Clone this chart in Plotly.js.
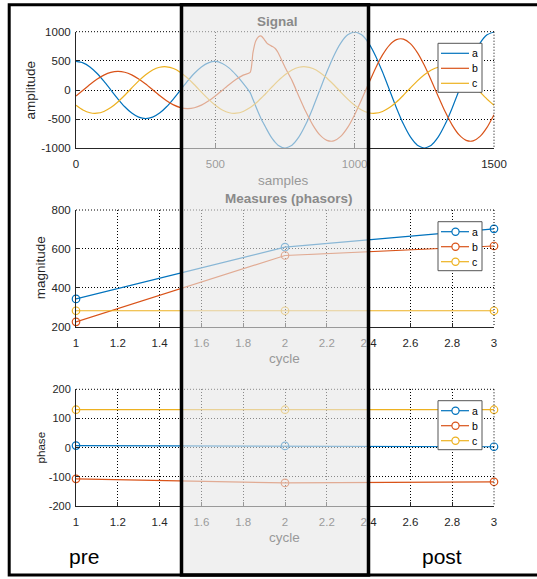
<!DOCTYPE html>
<html><head><meta charset="utf-8">
<script src="https://cdn.plot.ly/plotly-3.0.1.min.js"></script>
<style>html,body{margin:0;padding:0;background:#fff}#chart{width:537px;height:579px}</style>
</head><body><div id="chart"></div>
<script>
// ---------------- data ----------------
const seriesNames = ['a', 'b', 'c'];
const seriesColors = ['#0072BD', '#D95319', '#EDB120'];

const sampleIdx = [0,25,50,75,100,125,150,175,200,225,250,275,300,325,350,375,400,425,450,475,500,525,550,575,600,625,
  635,645,655,665,675,685,695,705,715,
  725,750,775,800,825,850,875,900,925,950,975,1000,1025,1050,1075,1100,1125,1150,1175,1200,1225,1250,1275,1300,1325,1350,1375,1400,1425,1450,1475,1500];

const signalA = [490,466,396,288,151,0,-151,-288,-396,-466,-490,-466,-396,-288,-151,0,151,288,396,466,490,455,375,255,115,-45,
  -160,-280,-395,-500,-590,-680,-765,-840,-900,
  -946,-995,-946,-805,-585,-307,0,307,585,805,946,995,946,805,585,307,0,-307,-585,-805,-946,-995,-946,-805,-585,-307,0,307,585,805,946,995];

const signalB = [-102,-4,95,184,255,301,318,304,260,190,102,4,-95,-184,-255,-301,-318,-304,-260,-190,-102,-4,95,184,255,301,
  640,840,915,925,870,805,770,745,712,
  642,390,165,-110,-375,-602,-771,-864,-873,-796,-642,-424,-165,110,375,602,771,864,873,796,642,424,165,-110,-375,-602,-771,-864,-873,-796,-642,-424];

const signalC = [-262,-343,-390,-398,-368,-302,-206,-90,35,156,262,343,390,398,368,302,206,90,-35,-156,-262,-343,-390,-398,-368,-302,
  -267,-227,-184,-138,-90,-40,10,60,109,
  156,262,343,390,398,368,302,206,90,-35,-156,-262,-343,-390,-398,-368,-302,-206,-90,35,156,262,343,390,398,368,302,206,90,-35,-156,-262];

const cycles = [1, 2, 3];
const magA = [343, 609, 703];
const magB = [225, 566, 615];
const magC = [282, 282, 282];
const phaseA = [7, 6, 3];
const phaseB = [-107, -121, -117];
const phaseC = [130, 130, 130];

const signalXTicks = [0, 500, 1000, 1500];
const signalYTicks = [-1000, -500, 0, 500, 1000];
const cycleTicks = [1, 1.2, 1.4, 1.6, 1.8, 2, 2.2, 2.4, 2.6, 2.8, 3];
const magYTicks = [200, 400, 600, 800];
const phaseYTicks = [-200, -100, 0, 100, 200];

// ---------------- layout helpers ----------------
const W = 537, H = 579;
const px = v => v / W;
const py = v => 1 - v / H;
const FONT = 'Liberation Sans, Arial, Helvetica, sans-serif';
const AX_L = 76, AX_R = 494;
const boxes = [
  {top: 31.7, bottom: 148.3},
  {top: 210, bottom: 326.7},
  {top: 389.3, bottom: 506}
];
const DOT = '1px,2px';

function xAxis(anchor, range, ticks) {
  return {
    anchor: anchor, domain: [px(AX_L), px(AX_R)], range: range,
    tickmode: 'array', tickvals: ticks, ticktext: ticks.map(String),
    ticks: 'inside', ticklen: 4, tickcolor: '#262626', tickwidth: 1,
    showgrid: true, gridcolor: '#000', griddash: DOT, gridwidth: 1,
    showline: true, linecolor: '#262626', linewidth: 1, zeroline: false,
    tickfont: {family: FONT, size: 11.5, color: '#262626'},
    ticklabelstandoff: 5,
    fixedrange: true
  };
}
function yAxis(anchor, box, range, ticks, fs) {
  return {
    anchor: anchor, domain: [py(box.bottom), py(box.top)], range: range,
    tickmode: 'array', tickvals: ticks, ticktext: ticks.map(String),
    ticks: 'inside', ticklen: 4, tickcolor: '#262626', tickwidth: 1,
    showgrid: true, gridcolor: '#000', griddash: DOT, gridwidth: 1,
    showline: true, linecolor: '#262626', linewidth: 1, zeroline: false,
    tickfont: {family: FONT, size: fs, color: '#262626'},
    ticklabelstandoff: 2,
    fixedrange: true
  };
}

const signalSeries = [signalA, signalB, signalC];
const magSeries = [magA, magB, magC];
const phaseSeries = [phaseA, phaseB, phaseC];

const traces = [];
signalSeries.forEach((s, i) => traces.push({
  x: sampleIdx, y: s, type: 'scatter', mode: 'lines', name: seriesNames[i],
  line: {color: seriesColors[i], width: 1.2, shape: 'spline', smoothing: 0.6},
  xaxis: 'x', yaxis: 'y', showlegend: false, hoverinfo: 'skip'
}));
magSeries.forEach((s, i) => traces.push({
  x: cycles, y: s, type: 'scatter', mode: 'lines+markers', name: seriesNames[i],
  line: {color: seriesColors[i], width: 1.2},
  marker: {symbol: 'circle-open', size: 7.5, color: seriesColors[i], line: {width: 1.2, color: seriesColors[i]}},
  cliponaxis: false, xaxis: 'x2', yaxis: 'y2', showlegend: false, hoverinfo: 'skip'
}));
phaseSeries.forEach((s, i) => traces.push({
  x: cycles, y: s, type: 'scatter', mode: 'lines+markers', name: seriesNames[i],
  line: {color: seriesColors[i], width: 1.2},
  marker: {symbol: 'circle-open', size: 7.5, color: seriesColors[i], line: {width: 1.2, color: seriesColors[i]}},
  cliponaxis: false, xaxis: 'x3', yaxis: 'y3', showlegend: false, hoverinfo: 'skip'
}));

const shapes = [];
// dotted top/right box edges
boxes.forEach(b => {
  shapes.push({type: 'line', xref: 'paper', yref: 'paper', x0: px(AX_L), x1: px(AX_R), y0: py(b.top), y1: py(b.top),
    line: {color: '#000', width: 1, dash: DOT}, layer: 'above'});
  shapes.push({type: 'line', xref: 'paper', yref: 'paper', x0: px(AX_R), x1: px(AX_R), y0: py(b.top), y1: py(b.bottom),
    line: {color: '#000', width: 1, dash: DOT}, layer: 'above'});
});

const annotations = [];
function ann(text, x, y, size, color, extra) {
  return Object.assign({text: text, x: px(x), y: py(y), xref: 'paper', yref: 'paper', showarrow: false,
    xanchor: 'center', yanchor: 'middle', borderpad: 0, borderwidth: 0,
    font: {family: FONT, size: size, color: color}}, extra || {});
}

// custom legends
const legendTops = [43.3, 221.7, 400.7];
const LG_L = 438, LG_R = 482, LG_H = 49;
legendTops.forEach((top, k) => {
  shapes.push({type: 'rect', xref: 'paper', yref: 'paper', x0: px(LG_L), x1: px(LG_R), y0: py(top), y1: py(top + LG_H),
    fillcolor: '#fff', line: {color: '#555', width: 1}, layer: 'above'});
  seriesNames.forEach((nm, i) => {
    const yy = top + 10 + 15 * i;
    shapes.push({type: 'line', xref: 'paper', yref: 'paper', x0: px(441), x1: px(469), y0: py(yy), y1: py(yy),
      line: {color: seriesColors[i], width: 1.2}, layer: 'above'});
    if (k > 0) {
      shapes.push({type: 'circle', xref: 'paper', yref: 'paper', x0: px(455.5 - 3.6), x1: px(455.5 + 3.6),
        y0: py(yy - 3.6), y1: py(yy + 3.6), fillcolor: '#fff', line: {color: seriesColors[i], width: 1.2}, layer: 'above'});
    }
    annotations.push(ann(nm, 472, yy, 10.5, '#000', {xanchor: 'left'}));
  });
});

// outer figure border
shapes.push({type: 'rect', xref: 'paper', yref: 'paper', x0: px(9.2), x1: px(545), y0: py(4.7), y1: py(575),
  line: {color: '#000', width: 3}, fillcolor: 'rgba(0,0,0,0)', layer: 'above'});
// translucent gray overlay
shapes.push({type: 'rect', xref: 'paper', yref: 'paper', x0: px(181.5), x1: px(368.5), y0: py(4.7), y1: py(575),
  line: {color: '#000', width: 3.5}, fillcolor: 'rgba(230,230,230,0.6)', layer: 'above'});

// titles and labels (faded ones sit under the gray overlay)
annotations.push(ann('<b>Signal</b>', 277.5, 21.3, 13.5, '#8a8a8a'));
annotations.push(ann('samples', 283, 180, 13.5, '#999'));
annotations.push(ann('<b>Measures (phasors)</b>', 288.5, 198.6, 13.5, '#8a8a8a'));
annotations.push(ann('cycle', 284, 358, 13.5, '#999'));
annotations.push(ann('cycle', 284, 537, 13.5, '#999'));
annotations.push(ann('amplitude', 29.5, 90, 13.5, '#262626', {textangle: -90}));
annotations.push(ann('magnitude', 40, 268.3, 13.5, '#262626', {textangle: -90}));
annotations.push(ann('phase', 40, 447.5, 11.6, '#262626', {textangle: -90}));
annotations.push(ann('pre', 84, 556, 21, '#000'));
annotations.push(ann('post', 442, 556, 21, '#000'));

const layout = {
  width: W, height: H,
  margin: {l: 0, r: 0, t: 0, b: 0, pad: 0},
  paper_bgcolor: '#fff', plot_bgcolor: 'rgba(0,0,0,0)',
  showlegend: false,
  xaxis: xAxis('y', [0, 1500], signalXTicks),
  yaxis: yAxis('x', boxes[0], [-1000, 1000], signalYTicks, 11.5),
  xaxis2: xAxis('y2', [1, 3], cycleTicks),
  yaxis2: yAxis('x2', boxes[1], [200, 800], magYTicks, 11.5),
  xaxis3: xAxis('y3', [1, 3], cycleTicks),
  yaxis3: yAxis('x3', boxes[2], [-200, 200], phaseYTicks, 11),
  shapes: shapes,
  annotations: annotations,
  font: {family: FONT}
};

Plotly.newPlot('chart', traces, layout, {displayModeBar: false, staticPlot: true});
</script>
</body></html>
